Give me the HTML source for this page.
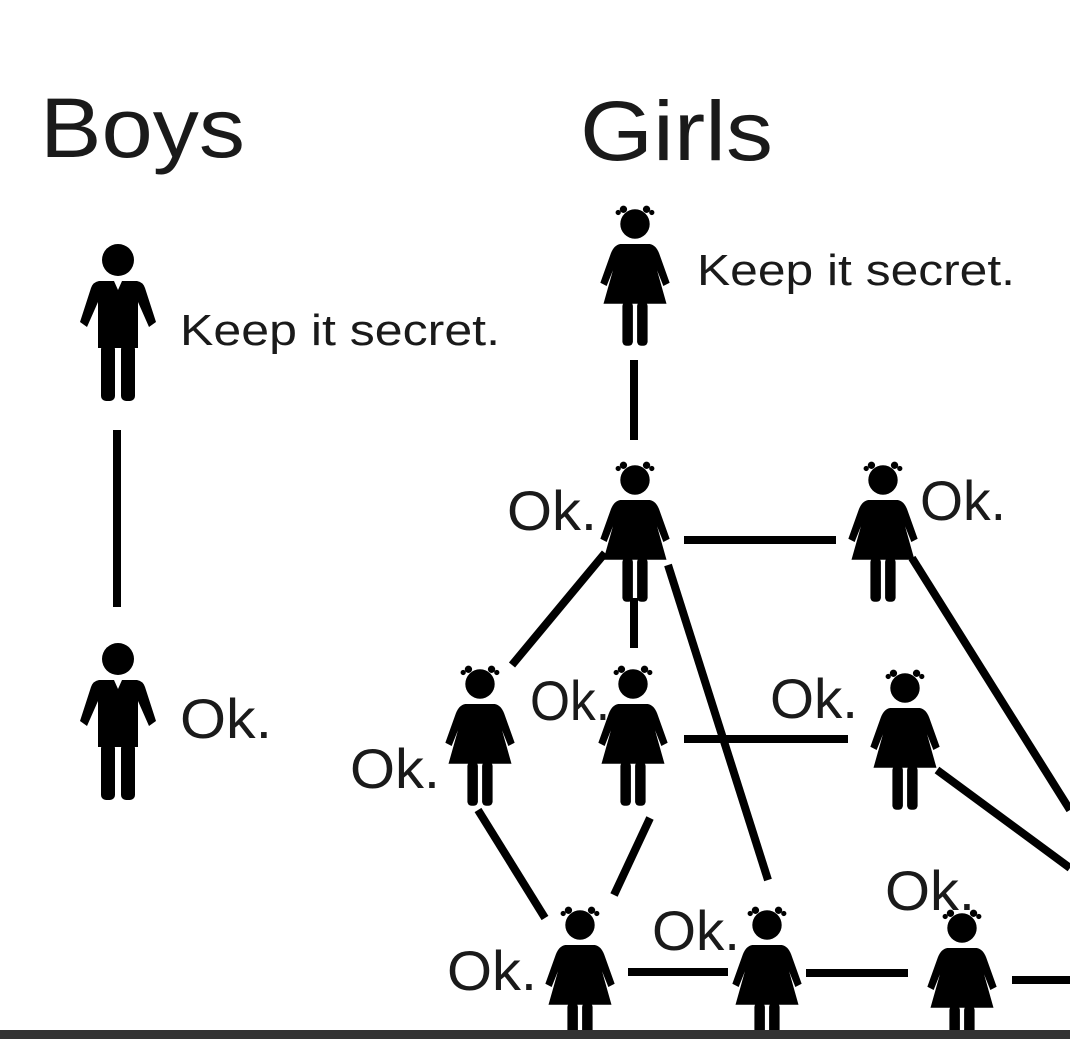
<!DOCTYPE html>
<html><head><meta charset="utf-8"><style>
html,body{margin:0;padding:0;background:#fff;}
svg{display:block;}
text{font-family:"Liberation Sans",sans-serif;fill:#1a1a1a;}
</style></head><body>
<svg width="1070" height="1039" viewBox="0 0 1070 1039" xmlns="http://www.w3.org/2000/svg">
<defs>
<g id="boy">
  <circle cx="0" cy="0" r="16" fill="#000"/>
  <path d="M-19,21 L-4,21 L0,30 L4,21 L19,21 Q25,22 27,28 L38,62 L31,67 L20,42 L20,88 L-20,88 L-20,42 L-31,67 L-38,62 L-27,28 Q-25,22 -19,21 Z" fill="#000"/>
  <rect x="-17" y="84" width="14" height="57" rx="5" fill="#000"/>
  <rect x="3" y="84" width="14" height="57" rx="5" fill="#000"/>
</g>
<g id="girl0">
  <circle cx="0" cy="0" r="14" fill="#000"/>
  <circle cx="-11" cy="-14" r="3.5" fill="#000"/>
  <circle cx="11" cy="-14" r="3.5" fill="#000"/>
  <circle cx="-16" cy="-11" r="2.5" fill="#000"/>
  <circle cx="16" cy="-11" r="2.5" fill="#000"/>
  <path d="M-14,19 L14,19 Q20,20 23,28 L33,56 L27,59 L21,44 L30,76 L-30,76 L-21,44 L-27,59 L-33,56 L-23,28 Q-20,20 -14,19 Z" fill="#000"/>
  <rect x="-12" y="74" width="10" height="42" rx="4" fill="#000"/>
  <rect x="2" y="74" width="10" height="42" rx="4" fill="#000"/>
</g>
<g id="girl"><use href="#girl0" transform="scale(1.05)"/></g>
</defs>

<text x="40" y="157" font-size="84" textLength="205" lengthAdjust="spacingAndGlyphs">Boys</text>
<text x="580" y="160" font-size="84" textLength="193" lengthAdjust="spacingAndGlyphs">Girls</text>
<text x="180" y="345" font-size="44" textLength="320" lengthAdjust="spacingAndGlyphs">Keep it secret.</text>
<text x="697" y="285" font-size="44" textLength="318" lengthAdjust="spacingAndGlyphs">Keep it secret.</text>

<g stroke="#000" stroke-width="8" stroke-linecap="butt" fill="none">
  <line x1="117" y1="430" x2="117" y2="607"/>
  <line x1="634" y1="360" x2="634" y2="440"/>
  <line x1="684" y1="540" x2="836" y2="540"/>
  <line x1="605" y1="553" x2="512" y2="665"/>
  <line x1="634" y1="598" x2="634" y2="648"/>
  <line x1="668" y1="565" x2="768" y2="880"/>
  <line x1="912" y1="558" x2="1070" y2="810"/>
  <line x1="684" y1="739" x2="848" y2="739"/>
  <line x1="937" y1="770" x2="1070" y2="868"/>
  <line x1="478" y1="810" x2="545" y2="918"/>
  <line x1="650" y1="818" x2="614" y2="895"/>
  <line x1="628" y1="972" x2="728" y2="972"/>
  <line x1="806" y1="973" x2="908" y2="973"/>
  <line x1="1012" y1="980" x2="1070" y2="980"/>
</g>

<use href="#boy" x="118" y="260"/>
<use href="#boy" x="118" y="659"/>
<use href="#girl" x="635" y="224"/>
<use href="#girl" x="635" y="480"/>
<use href="#girl" x="883" y="480"/>
<use href="#girl" x="480" y="684"/>
<use href="#girl" x="633" y="684"/>
<use href="#girl" x="905" y="688"/>
<use href="#girl" x="580" y="925"/>
<use href="#girl" x="767" y="925"/>
<use href="#girl" x="962" y="928"/>

<g font-size="56">
<text x="507" y="530" textLength="90" lengthAdjust="spacingAndGlyphs">Ok.</text>
<text x="920" y="520" textLength="86" lengthAdjust="spacingAndGlyphs">Ok.</text>
<text x="530" y="720" textLength="80" lengthAdjust="spacingAndGlyphs">Ok.</text>
<text x="770" y="718" textLength="88" lengthAdjust="spacingAndGlyphs">Ok.</text>
<text x="350" y="788" textLength="90" lengthAdjust="spacingAndGlyphs">Ok.</text>
<text x="180" y="738" textLength="92" lengthAdjust="spacingAndGlyphs">Ok.</text>
<text x="447" y="990" textLength="90" lengthAdjust="spacingAndGlyphs">Ok.</text>
<text x="652" y="950" textLength="88" lengthAdjust="spacingAndGlyphs">Ok.</text>
<text x="885" y="910" textLength="90" lengthAdjust="spacingAndGlyphs">Ok.</text>
</g>

<rect x="0" y="1030" width="1070" height="9" fill="#333"/>
</svg>
</body></html>
